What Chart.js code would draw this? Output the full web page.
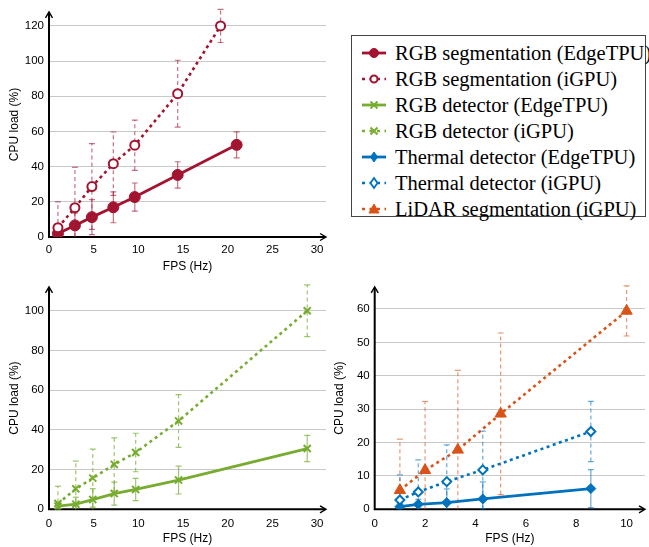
<!DOCTYPE html>
<html><head><meta charset="utf-8">
<script src="https://cdn.jsdelivr.net/npm/chart.js@4.4.1/dist/chart.umd.min.js"></script>
<style>
html,body{margin:0;padding:0;background:#fff;width:649px;height:547px;overflow:hidden;}
canvas{position:absolute;}
#legend{position:absolute;left:351px;top:35px;width:295px;height:182px;border:1px solid #444;box-sizing:border-box;}
.row{position:absolute;left:0;height:26px;line-height:26px;font-family:"Liberation Serif","Times New Roman",serif;font-size:20px;color:#000;white-space:nowrap;}
.row svg{position:absolute;left:8px;top:5px;}
.row span{position:absolute;left:43px;top:0;transform:scaleX(1.025);transform-origin:0 50%;}
</style></head>
<body>
<canvas id="c1" width="335" height="275" style="left:0;top:0"></canvas>
<canvas id="c2" width="335" height="272" style="left:0;top:275px"></canvas>
<canvas id="c3" width="319" height="272" style="left:330px;top:275px"></canvas>
<div id="legend"></div>
<script>
// ---------- DATA ----------
const segEdgeX = [1.0, 2.9, 4.8, 7.2, 9.6, 14.4, 21.0];
const segEdgeY = [2.0, 6.6, 11.3, 16.9, 22.7, 35.3, 52.4];
const segEdgeErr = [2.0, 7.0, 10.0, 8.8, 8.0, 7.5, 7.4];
const segIgpuX = [1.0, 2.9, 4.8, 7.2, 9.6, 14.4, 19.2];
const segIgpuY = [5.3, 16.7, 28.7, 41.7, 52.2, 81.5, 120.0];
const segIgpuErr = [14.7, 22.9, 24.4, 18.0, 14.3, 19.0, 9.4];

const detEdgeX = [1.0, 3.0, 4.9, 7.3, 9.7, 14.5, 28.9];
const detEdgeY = [1.6, 2.6, 4.9, 7.9, 10.0, 14.7, 30.6];
const detEdgeErr = [1.5, 3.5, 5.5, 5.8, 5.6, 7.0, 6.6];
const detIgpuX = [1.0, 3.0, 4.9, 7.3, 9.7, 14.5, 28.9];
const detIgpuY = [2.9, 10.3, 15.7, 22.6, 28.6, 44.5, 100.0];
const detIgpuErr = [8.7, 14.0, 14.6, 13.4, 9.7, 13.3, 13.0];

const thEdgeX = [1.0, 1.73, 2.86, 4.29, 8.58];
const thEdgeY = [0.8, 1.5, 2.0, 3.1, 6.2];
const thEdgeErr = [1.0, 1.5, 4.1, 5.1, 5.7];
const thIgpuX = [1.0, 1.73, 2.86, 4.29, 8.58];
const thIgpuY = [2.8, 5.2, 8.3, 11.8, 23.3];
const thIgpuErr = [7.5, 9.6, 11.0, 11.6, 9.0];
const lidX = [1.0, 2.0, 3.3, 5.0, 10.0];
const lidY = [5.7, 11.7, 17.8, 28.6, 59.4];
const lidErr = [15.3, 20.6, 23.8, 24.2, 7.5];

const xTicks30 = [0, 5, 10, 15, 20, 25, 30];
const xTicks10 = [0, 2, 4, 6, 8, 10];
const yTicks1 = [0, 20, 40, 60, 80, 100, 120];
const yTicks2 = [0, 20, 40, 60, 80, 100];
const yTicks3 = [0, 10, 20, 30, 40, 50, 60];

const legendLabels = ['RGB segmentation (EdgeTPU)','RGB segmentation (iGPU)','RGB detector (EdgeTPU)','RGB detector (iGPU)','Thermal detector (EdgeTPU)','Thermal detector (iGPU)','LiDAR segmentation (iGPU)'];

// ---------- STYLE ----------
const RED = '#A2142F', GREEN = '#77AC30', BLUE = '#0072BD', ORANGE = '#D95319';
const ERR = {[RED]:'rgba(162,20,47,0.6)',[GREEN]:'rgba(119,172,48,0.7)',[BLUE]:'rgba(0,114,189,0.6)',[ORANGE]:'rgba(217,83,25,0.6)'};
const SANS = 'Liberation Sans';
const DASH = [3, 3.5];

function pts(xs, ys){ return xs.map((x,i)=>({x:x, y:ys[i]})); }
function ds(xs, ys, err, color, dashed, style, radius, filled){
  return {data:pts(xs,ys), err:err, showLine:true, borderColor:color, backgroundColor:filled?color:'#fff',
    borderWidth:dashed?2.6:2.8, borderDash:dashed?DASH:[], pointStyle:style, pointRadius:radius,
    pointBorderWidth:filled && style!=='crossRot' ? 1 : 2, pointBorderColor:color,
    pointBackgroundColor:filled?color:'#fff', tension:0, dashed:dashed, errColor:ERR[color]};
}

const axesPlugin = {id:'axesArrows', beforeDatasetsDraw(chart){
  const {ctx, chartArea:{left,right,top,bottom}} = chart;
  ctx.save(); ctx.strokeStyle='#000'; ctx.lineWidth=2; ctx.setLineDash([]);
  ctx.beginPath(); ctx.moveTo(left, bottom+1); ctx.lineTo(left, top+1);
  ctx.moveTo(left-1, bottom); ctx.lineTo(right-1, bottom); ctx.stroke();
  ctx.lineWidth=1.4; ctx.beginPath();
  ctx.moveTo(left-3.5, top+6); ctx.lineTo(left, top); ctx.lineTo(left+3.5, top+6);
  ctx.moveTo(right-6, bottom-3.5); ctx.lineTo(right, bottom); ctx.lineTo(right-6, bottom+3.5);
  ctx.stroke(); ctx.restore();
}};
const errPlugin = {id:'errBars', beforeDatasetsDraw(chart){
  const {ctx, scales:{x,y}} = chart;
  chart.data.datasets.forEach(d=>{
    if(!d.err) return;
    ctx.save(); ctx.strokeStyle=d.errColor; ctx.lineWidth=1.2;
    d.data.forEach((p,j)=>{
      const e=d.err[j]; const px=x.getPixelForValue(p.x);
      const y1=y.getPixelForValue(Math.max(0,p.y-e)), y2=y.getPixelForValue(p.y+e);
      ctx.setLineDash(d.dashed?[4,3]:[]);
      ctx.beginPath(); ctx.moveTo(px,y1); ctx.lineTo(px,y2); ctx.stroke();
      ctx.setLineDash([]);
      ctx.beginPath(); ctx.moveTo(px-3,y2); ctx.lineTo(px+3,y2);
      if(p.y-e>0){ ctx.moveTo(px-3,y1); ctx.lineTo(px+3,y1); }
      ctx.stroke();
    });
    ctx.restore();
  });
}};

function scales(xMax, yMax, xT, yT, yW, xH, yTitlePad, xTickPad){
  return {
    x:{type:'linear', min:0, max:xMax,
      afterBuildTicks:s=>{s.ticks=xT.map(v=>({value:v}));},
      afterFit:s=>{s.height=xH;},
      grid:{display:false, drawTicks:false}, border:{display:false},
      ticks:{padding:xTickPad, color:'#000', font:{family:SANS, size:11.5}, maxRotation:0, autoSkip:false},
      title:{display:true, text:'FPS (Hz)', color:'#000', font:{family:SANS, size:12}, padding:{top:0,bottom:1}}},
    y:{type:'linear', min:0, max:yMax,
      afterBuildTicks:s=>{s.ticks=yT.map(v=>({value:v}));},
      afterFit:s=>{s.width=yW;},
      grid:{color:'#c8c8c8', lineWidth:1, drawTicks:false}, border:{display:false},
      ticks:{padding:5, color:'#000', font:{family:SANS, size:11.5}},
      title:{display:true, text:'CPU load (%)', color:'#000', font:{family:SANS, size:12}, padding:{top:yTitlePad,bottom:0}}}
  };
}
function make(id, datasets, sc, pad){
  return new Chart(document.getElementById(id), {type:'scatter',
    data:{datasets:datasets},
    options:{responsive:false, animation:false, devicePixelRatio:1,
      layout:{padding:pad, autoPadding:false},
      plugins:{legend:{display:false}, tooltip:{enabled:false}},
      scales:sc},
    plugins:[axesPlugin, errPlugin]});
}

Chart.defaults.font.family = SANS;

make('c1', [
  ds(segIgpuX, segIgpuY, segIgpuErr, RED, true, 'circle', 4.5, false),
  ds(segEdgeX, segEdgeY, segEdgeErr, RED, false, 'circle', 5.5, true)
], scales(31, 128, xTicks30, yTicks1, 49, 38, 7, 6), {left:0, right:9, top:10, bottom:0});

make('c2', [
  ds(detIgpuX, detIgpuY, detIgpuErr, GREEN, true, 'crossRot', 5, false),
  ds(detEdgeX, detEdgeY, detEdgeErr, GREEN, false, 'crossRot', 5, true)
], scales(31, 112, xTicks30, yTicks2, 49, 37.7, 7, 8), {left:0, right:9, top:6.3, bottom:0});

make('c3', [
  ds(lidX, lidY, lidErr, ORANGE, true, 'triangle', 6.5, true),
  ds(thIgpuX, thIgpuY, thIgpuErr, BLUE, true, 'rectRot', 4.5, false),
  ds(thEdgeX, thEdgeY, thEdgeErr, BLUE, false, 'rectRot', 5, true)
], scales(10.73, 66.6, xTicks10, yTicks3, 44.7, 37.7, 2, 8), {left:0, right:4, top:5.7, bottom:0});

// ---------- LEGEND ----------
const legendStyles = [
  {c:RED, dash:false, m:'circle', f:true}, {c:RED, dash:true, m:'circle', f:false},
  {c:GREEN, dash:false, m:'x', f:true}, {c:GREEN, dash:true, m:'x', f:false},
  {c:BLUE, dash:false, m:'diamond', f:true}, {c:BLUE, dash:true, m:'diamond', f:false},
  {c:ORANGE, dash:true, m:'triangle', f:true}
];
const leg = document.getElementById('legend');
legendLabels.forEach((t,i)=>{
  const s = legendStyles[i];
  const cx = 14, cy = 8;
  let mk = '';
  const fill = s.f ? s.c : '#fff';
  if(s.m==='circle') mk = `<circle cx="${cx}" cy="${cy}" r="${s.f?4.5:3.5}" fill="${fill}" stroke="${s.c}" stroke-width="${s.f?1:2}"/>`;
  if(s.m==='x') mk = `<path d="M${cx-3.5} ${cy-3.5}L${cx+3.5} ${cy+3.5}M${cx-3.5} ${cy+3.5}L${cx+3.5} ${cy-3.5}" stroke="${s.c}" stroke-width="2"/>`;
  if(s.m==='diamond') mk = `<path d="M${cx} ${cy-5}L${cx+3.5} ${cy}L${cx} ${cy+5}L${cx-3.5} ${cy}Z" fill="${fill}" stroke="${s.c}" stroke-width="${s.f?1:1.8}"/>`;
  if(s.m==='triangle') mk = `<path d="M${cx} ${cy-5}L${cx+5} ${cy+4}L${cx-5} ${cy+4}Z" fill="${fill}" stroke="${s.c}" stroke-width="1"/>`;
  const line = s.dash ? `<line x1="2" y1="${cy}" x2="26" y2="${cy}" stroke="${s.c}" stroke-width="2.6" stroke-dasharray="3 4.5"/>`
                      : `<line x1="2" y1="${cy}" x2="26" y2="${cy}" stroke="${s.c}" stroke-width="2.8"/>`;
  const row = document.createElement('div');
  row.className = 'row';
  row.style.top = (4 + i*26) + 'px';
  row.innerHTML = `<svg width="30" height="16">${line}${mk}</svg><span>${t}</span>`;
  leg.appendChild(row);
});
</script>
</body></html>
